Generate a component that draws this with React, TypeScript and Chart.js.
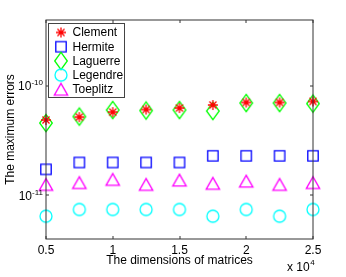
import React, { useEffect, useRef } from 'react';
import { Chart, registerables } from 'chart.js';

Chart.register(...registerables);

// ---- data ----
const dims = [5000, 7500, 10000, 12500, 15000, 17500, 20000, 22500, 25000];
const clement = [4.88e-11, 5.19e-11, 5.77e-11, 6.09e-11, 6.28e-11, 6.69e-11, 7.06e-11, 7.06e-11, 7.21e-11];
const hermite = [1.73e-11, 2.0e-11, 2.0e-11, 2.0e-11, 2.0e-11, 2.3e-11, 2.3e-11, 2.3e-11, 2.3e-11];
const laguerre = [4.58e-11, 5.25e-11, 6.02e-11, 5.96e-11, 6.02e-11, 5.9e-11, 6.98e-11, 6.98e-11, 6.9e-11];
const legendre = [6.46e-12, 7.44e-12, 7.44e-12, 7.44e-12, 7.44e-12, 6.46e-12, 7.44e-12, 6.46e-12, 7.44e-12];
const toeplitz = [1.26e-11, 1.31e-11, 1.4e-11, 1.26e-11, 1.38e-11, 1.29e-11, 1.35e-11, 1.26e-11, 1.31e-11];
const seriesNames = ['Clement', 'Hermite', 'Laguerre', 'Legendre', 'Toeplitz'];
const xTickValues = [5000, 10000, 15000, 20000, 25000];
const xTickLabels = ['0.5', '1', '1.5', '2', '2.5'];
const xExponent = '4';
const yTickValues = [1e-11, 1e-10];
const yTickExponents = ['-11', '-10'];
const xTitle = 'The dimensions of matrices';
const yTitle = 'The maximum errors';

const FONT = '"Liberation Sans", Arial, Helvetica, sans-serif';

type Kind = 'star' | 'square' | 'diamond' | 'circle' | 'triangle';

function makeMarker(kind: Kind, color: string): HTMLCanvasElement {
  const c = document.createElement('canvas');
  c.width = 24;
  c.height = 24;
  const g = c.getContext('2d')!;
  g.strokeStyle = color;
  g.lineWidth = 1.3;
  g.beginPath();
  const cx = 12, cy = 12;
  switch (kind) {
    case 'star':
      for (let a = 0; a < 4; a++) {
        const t = (a * Math.PI) / 4;
        g.moveTo(cx + 5 * Math.cos(t), cy + 5 * Math.sin(t));
        g.lineTo(cx - 5 * Math.cos(t), cy - 5 * Math.sin(t));
      }
      break;
    case 'square':
      g.rect(cx - 5.2, cy - 5.2, 10.4, 10.4);
      break;
    case 'diamond':
      g.moveTo(cx, cy - 8.7);
      g.lineTo(cx + 6.3, cy);
      g.lineTo(cx, cy + 8.7);
      g.lineTo(cx - 6.3, cy);
      g.closePath();
      break;
    case 'circle':
      g.arc(cx, cy, 6, 0, Math.PI * 2);
      break;
    case 'triangle':
      g.moveTo(cx, cy - 5.9);
      g.lineTo(cx + 6.7, cy + 5.9);
      g.lineTo(cx - 6.7, cy + 5.9);
      g.closePath();
      break;
  }
  g.stroke();
  return c;
}

export default function App() {
  const ref = useRef<HTMLCanvasElement | null>(null);

  useEffect(() => {
    if (!ref.current) return;
    Chart.defaults.font.family = FONT;
    Chart.defaults.font.size = 12;
    Chart.defaults.color = '#000';

    const seriesValues = [clement, hermite, laguerre, legendre, toeplitz];
    const kinds: Kind[] = ['star', 'square', 'diamond', 'circle', 'triangle'];
    const colors = ['#ff0000', '#0000ff', '#00ff00', '#00ffff', '#ff00ff'];
    const markers = kinds.map((k, i) => makeMarker(k, colors[i]));

    const axesPlugin = {
      id: 'matlabAxes',
      afterDatasetsDraw(chart: any) {
        const { ctx, chartArea: a, scales } = chart;
        const xs = scales.x, ys = scales.y;
        ctx.save();
        // frame
        ctx.strokeStyle = '#333';
        ctx.lineWidth = 1;
        ctx.strokeRect(a.left, a.top, a.right - a.left, a.bottom - a.top);
        // inward ticks
        ctx.beginPath();
        xTickValues.forEach((v) => {
          const px = Math.round(xs.getPixelForValue(v));
          ctx.moveTo(px, a.bottom);
          ctx.lineTo(px, a.bottom - 3);
          ctx.moveTo(px, a.top);
          ctx.lineTo(px, a.top + 3);
        });
        yTickValues.forEach((v) => {
          const py = Math.round(ys.getPixelForValue(v));
          ctx.moveTo(a.left, py);
          ctx.lineTo(a.left + 3, py);
          ctx.moveTo(a.right, py);
          ctx.lineTo(a.right - 3, py);
        });
        ctx.stroke();

        // y tick labels 10^e
        ctx.fillStyle = '#000';
        ctx.textAlign = 'right';
        ctx.textBaseline = 'alphabetic';
        yTickValues.forEach((v, i) => {
          const py = ys.getPixelForValue(v);
          const right = a.left - 3;
          ctx.font = `8px ${FONT}`;
          const ew = ctx.measureText(yTickExponents[i]).width;
          ctx.fillText(yTickExponents[i], right, py - 0.5);
          ctx.font = `12px ${FONT}`;
          ctx.fillText('10', right - ew, py + 4.5);
        });

        // x multiplier "x 10^4"
        ctx.textAlign = 'left';
        ctx.font = `12px ${FONT}`;
        const base = 'x 10';
        const bx = a.right - 26;
        ctx.fillText(base, bx, 271);
        const bw = ctx.measureText(base).width;
        ctx.font = `8px ${FONT}`;
        ctx.fillText(xExponent, bx + bw + 0.5, 265);

        // legend
        const lx = 48, ly = 23, lw = 76, lh = 74;
        ctx.fillStyle = '#fff';
        ctx.fillRect(lx, ly, lw, lh);
        ctx.strokeStyle = '#444';
        ctx.strokeRect(lx + 0.5, ly + 0.5, lw, lh);
        ctx.fillStyle = '#000';
        ctx.font = `12px ${FONT}`;
        ctx.textBaseline = 'middle';
        seriesNames.forEach((name, i) => {
          const ry = 32.5 + i * 14.2;
          const m = markers[i];
          ctx.drawImage(m, 61 - m.width / 2, ry - m.height / 2);
          ctx.fillText(name, 72.5, ry + 0.5);
        });
        ctx.restore();
      },
    };

    const chart = new Chart(ref.current, {
      type: 'scatter',
      data: {
        datasets: seriesNames.map((name, i) => ({
          label: name,
          data: dims.map((d, j) => ({ x: d, y: seriesValues[i][j] })),
          pointStyle: markers[i],
          pointRadius: 7,
          showLine: false,
          clip: false,
          borderColor: colors[i],
          backgroundColor: 'rgba(0,0,0,0)',
        })),
      },
      options: {
        responsive: false,
        animation: false,
        devicePixelRatio: 1,
        layout: { padding: { left: 0, right: 33, top: 20, bottom: 0 } },
        plugins: { legend: { display: false }, tooltip: { enabled: false } },
        scales: {
          x: {
            type: 'linear',
            min: 5000,
            max: 25000,
            grid: { display: false },
            border: { display: false },
            afterBuildTicks: (s: any) => {
              s.ticks = xTickValues.map((v) => ({ value: v }));
            },
            afterFit: (s: any) => {
              s.height = 38;
            },
            ticks: {
              padding: -4,
              autoSkip: false,
              maxRotation: 0,
              color: '#000',
              font: { size: 12 },
              callback: (v: any) => xTickLabels[xTickValues.indexOf(Number(v))] ?? '',
            },
            title: {
              display: true,
              text: xTitle,
              color: '#000',
              font: { size: 12 },
              padding: { top: 0, bottom: 9 },
            },
          },
          y: {
            type: 'logarithmic',
            min: 4e-12,
            max: 4e-10,
            grid: { display: false },
            border: { display: false },
            ticks: { display: false },
            afterBuildTicks: (s: any) => {
              s.ticks = yTickValues.map((v) => ({ value: v }));
            },
            afterFit: (s: any) => {
              s.width = 46;
            },
            title: {
              display: true,
              text: yTitle,
              color: '#000',
              font: { size: 12 },
              padding: { top: 3, bottom: 0 },
            },
          },
        },
      },
      plugins: [axesPlugin],
    });
    return () => chart.destroy();
  }, []);

  return (
    <div style={{ position: 'absolute', left: 0, top: 0, width: 346, height: 277, background: '#fff' }}>
      <canvas ref={ref} width={346} height={277} style={{ width: 346, height: 277 }} />
    </div>
  );
}
